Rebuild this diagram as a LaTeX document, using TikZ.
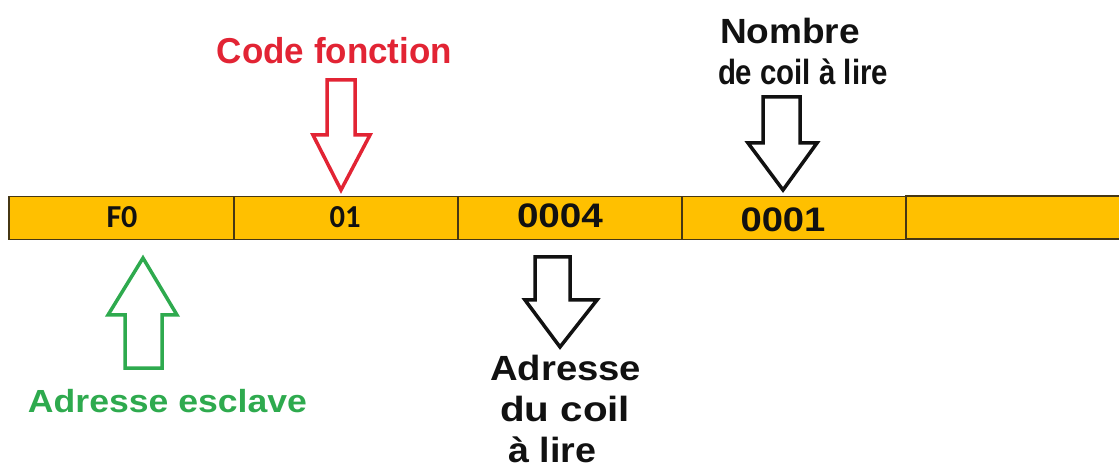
\documentclass[tikz,border=0pt]{standalone}
\usepackage{fontspec}
\usepackage{graphicx}
\setmainfont{Liberation Sans}
\newfontfamily\calib{Carlito}
\definecolor{barfill}{RGB}{255,192,0}
\definecolor{barline}{RGB}{70,55,20}
\definecolor{redc}{RGB}{226,36,52}
\definecolor{greenc}{RGB}{46,170,78}
\definecolor{blackc}{RGB}{17,17,17}
\newcommand\tw[2]{\resizebox{#1}{\height}{#2}}
\begin{document}
\begin{tikzpicture}[x=1pt,y=-1pt,
  cell/.style={fill=barfill, draw=barline, line width=1.5pt, minimum height=43pt, inner sep=0pt, anchor=north west},
  opencell/.style={fill=barfill, minimum height=43pt, inner sep=0pt, anchor=north west},
  lab/.style={inner sep=0pt, font=\bfseries},
  blockarrow/.style={line width=3.5pt, line join=miter, fill=white}
]
\useasboundingbox (0,0) rectangle (1119,470);
% bar
\node[opencell, minimum width=214pt] (c5) at (905,196) {};
\draw[barline, line width=2pt] (c5.north west) -- (c5.north east);
\draw[barline, line width=2pt] (c5.south west) -- (c5.south east);
\node[cell, minimum width=225pt] (c1) at (8,196) {};
\node[cell, minimum width=224pt] (c2) at (233,196) {};
\node[cell, minimum width=224pt] (c3) at (457,196) {};
\node[cell, minimum width=224pt] (c4) at (681,196) {};
% bar texts
\node[lab, anchor=base, font=\calib\bfseries\fontsize{32}{36}\selectfont, blackc] (tf0) at (122,228) {\tw{31pt}{F0}};
\node[lab, anchor=base, font=\calib\bfseries\fontsize{32}{36}\selectfont, blackc] (t01) at (345,228) {\tw{31pt}{01}};
\node[lab, anchor=base, font=\bfseries\fontsize{34}{38}\selectfont, blackc] (t0004) at (560,228) {\tw{86pt}{0004}};
\node[lab, anchor=base, font=\bfseries\fontsize{34}{38}\selectfont, blackc] (t0001) at (783,232) {\tw{85pt}{0001}};
% block arrows
\draw[blockarrow, draw=redc] (327,80) -- (355,80) -- (355,135) -- (370,135) -- (341,190) -- (313,135) -- (327,135) -- cycle;
\draw[blockarrow, draw=blackc] (763,97) -- (800,97) -- (800,143) -- (817,143) -- (783,190) -- (748,143) -- (763,143) -- cycle;
\draw[blockarrow, draw=greenc] (143,258) -- (177,315) -- (162,315) -- (162,368) -- (125,368) -- (125,315) -- (108,315) -- cycle;
\draw[blockarrow, draw=blackc] (535,257) -- (570,257) -- (570,300) -- (597,300) -- (560,347) -- (525,300) -- (535,300) -- cycle;
% labels
\node[lab, anchor=base, text=redc, font=\bfseries\fontsize{36}{40}\selectfont] (tcode) at (334.5,64) {\tw{235pt}{Code fonction}};
\node[lab, anchor=base, text=blackc, font=\bfseries\fontsize{35}{40}\selectfont] (tnb1) at (790,44) {\tw{140pt}{Nombre}};
\node[lab, anchor=base, text=blackc, font=\bfseries\fontsize{35}{40}\selectfont] (tnb2) at (803,85) {\tw{170pt}{de coil à lire}};
\node[lab, anchor=base, text=greenc, font=\bfseries\fontsize{32}{36}\selectfont] (tesc) at (167.5,412) {\tw{279pt}{Adresse esclave}};
\node[lab, anchor=base west, text=blackc, font=\bfseries\fontsize{35}{40}\selectfont] (tad1) at (490,380) {\tw{151pt}{Adresse}};
\node[lab, anchor=base west, text=blackc, font=\bfseries\fontsize{35}{40}\selectfont] (tad2) at (500,421) {\tw{130pt}{du coil}};
\node[lab, anchor=base west, text=blackc, font=\bfseries\fontsize{35}{40}\selectfont] (tad3) at (508,462) {\tw{88pt}{à lire}};
\end{tikzpicture}
\end{document}
